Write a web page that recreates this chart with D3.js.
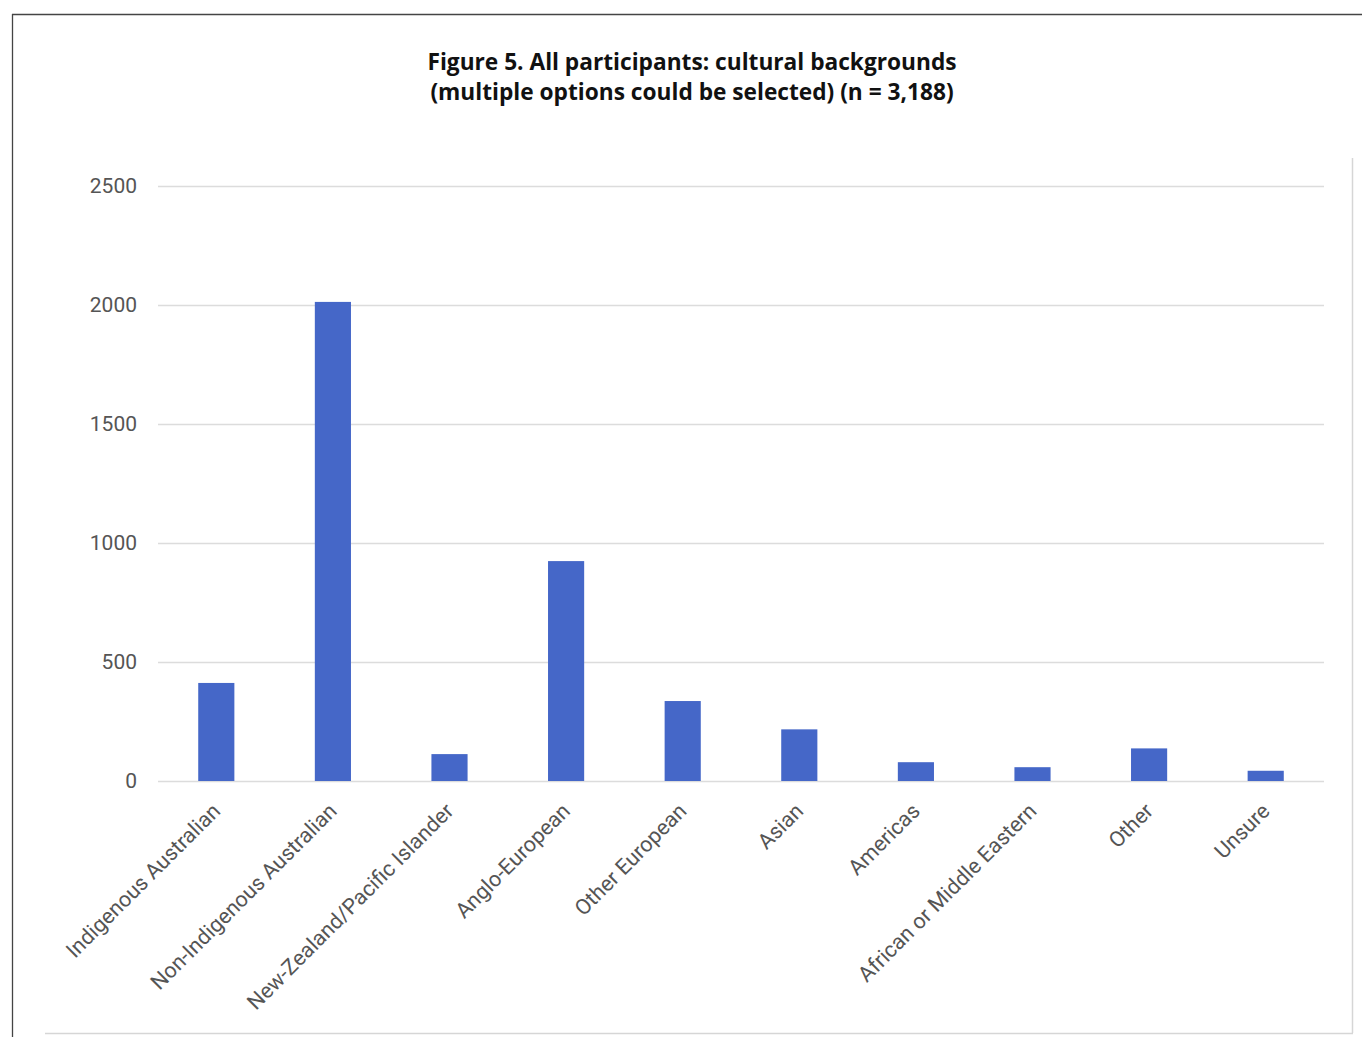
<!DOCTYPE html>
<html>
<head>
<meta charset="utf-8">
<script src="https://cdn.jsdelivr.net/npm/d3@7"></script>
<style>
  html, body { margin: 0; padding: 0; background: #fff; }
  svg { display: block; }
</style>
</head>
<body>
<svg id="chart" width="1362" height="1037"></svg>
<script>
// Cultural backgrounds reported by participants (multiple selections allowed)
const categories = [
  "Indigenous Australian",
  "Non-Indigenous Australian",
  "New-Zealand/Pacific Islander",
  "Anglo-European",
  "Other European",
  "Asian",
  "Americas",
  "African or Middle Eastern",
  "Other",
  "Unsure"
];
const counts = [412, 2013, 113, 924, 336, 217, 79, 58, 137, 43];
const yTicks = [0, 500, 1000, 1500, 2000, 2500];
const titleLines = [
  "Figure 5. All participants: cultural backgrounds",
  "(multiple options could be selected) (n = 3,188)"
];

const svg = d3.select("#chart");
const W = 1362, H = 1037;
const plot = { left: 158, right: 1324, top: 186, bottom: 781 };

// Page frame: dark rule along top and left, light rule along right and bottom
svg.append("line").attr("x1", 12).attr("x2", W).attr("y1", 14.5).attr("y2", 14.5)
  .attr("stroke", "#444").attr("stroke-width", 1.3);
svg.append("line").attr("x1", 12.5).attr("x2", 12.5).attr("y1", 14).attr("y2", H)
  .attr("stroke", "#444").attr("stroke-width", 1.3);
svg.append("line").attr("x1", 1352.5).attr("x2", 1352.5).attr("y1", 158).attr("y2", 1033)
  .attr("stroke", "#d6d6d6").attr("stroke-width", 1.5);
svg.append("line").attr("x1", 45).attr("x2", 1353).attr("y1", 1033.5).attr("y2", 1033.5)
  .attr("stroke", "#d6d6d6").attr("stroke-width", 1.5);

// Title
svg.append("text")
  .attr("x", 692).attr("y", 70)
  .attr("text-anchor", "middle")
  .attr("font-family", "'Open Sans', Lato, sans-serif")
  .attr("font-weight", 700)
  .attr("font-size", 22.7)
  .attr("fill", "#111")
  .selectAll("tspan").data(titleLines).join("tspan")
  .attr("x", 692)
  .attr("dy", (d, i) => i === 0 ? 0 : 30)
  .text(d => d);

const x = d3.scaleBand().domain(categories).range([plot.left, plot.right]).paddingInner(0.69).paddingOuter(0.345);
const y = d3.scaleLinear().domain([0, 2500]).range([plot.bottom, plot.top]);

// Horizontal gridlines and y labels
const yAxis = svg.append("g")
  .attr("transform", `translate(${plot.left},0)`)
  .call(d3.axisLeft(y).tickValues(yTicks).tickSize(-(plot.right - plot.left)).tickPadding(21).tickFormat(d3.format("d")));
yAxis.select(".domain").remove();
yAxis.selectAll(".tick line").attr("stroke", "#dcdcdc").attr("stroke-width", 1.5);
yAxis.selectAll(".tick text")
  .attr("font-family", "Roboto, sans-serif")
  .attr("font-size", 21)
  .attr("fill", "#555");

// Bars
svg.append("g").selectAll("rect").data(categories).join("rect")
  .attr("x", d => x(d))
  .attr("width", x.bandwidth())
  .attr("y", (d, i) => y(counts[i]))
  .attr("height", (d, i) => y(0) - y(counts[i]))
  .attr("fill", "#4567c8");

// Category labels, slanted
const xAxis = svg.append("g")
  .attr("transform", `translate(0,${plot.bottom})`)
  .call(d3.axisBottom(x).tickSize(0).tickPadding(0));
xAxis.select(".domain").remove();
xAxis.selectAll(".tick text")
  .attr("font-family", "Roboto, sans-serif")
  .attr("font-size", 21.5)
  .attr("fill", "#555")
  .attr("text-anchor", "end")
  .attr("dy", "0.35em")
  .attr("transform", "translate(0,26) rotate(-45)");
</script>
</body>
</html>
